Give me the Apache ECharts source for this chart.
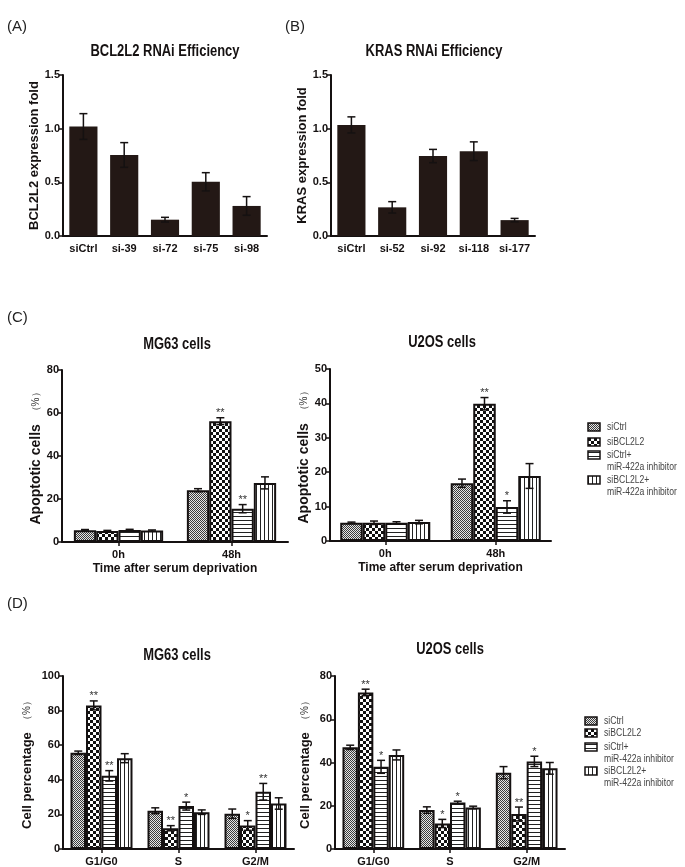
<!DOCTYPE html>
<html><head><meta charset="utf-8">
<script src="https://cdn.jsdelivr.net/npm/echarts@6/dist/echarts.min.js"></script>
<style>html,body{margin:0;padding:0;background:#fff}#c{width:685px;height:867px}</style>
</head><body><div id="c"></div>
<script>
// ---------- DATA ----------
const catsA = ['siCtrl', 'si-39', 'si-72', 'si-75', 'si-98'];
const valsA = [1.02, 0.755, 0.152, 0.505, 0.28];
const errA  = [0.12, 0.115, 0.022, 0.085, 0.087];

const catsB = ['siCtrl', 'si-52', 'si-92', 'si-118', 'si-177'];
const valsB = [1.035, 0.267, 0.745, 0.79, 0.148];
const errB  = [0.075, 0.053, 0.062, 0.087, 0.016];

const groupNames = ['siCtrl', 'siBCL2L2', 'siCtrl+ miR-422a inhibitor', 'siBCL2L2+ miR-422a inhibitor'];
const legendLines = [['siCtrl'], ['siBCL2L2'], ['siCtrl+', 'miR-422a inhibitor'], ['siBCL2L2+', 'miR-422a inhibitor']];

const timeCats = ['0h', '48h'];
// apoptosis MG63 (rows = groups, cols = time)
const apoMG63     = [[5.5, 24.1], [5.1, 56.2], [5.6, 15.5], [5.3, 27.5]];
const apoMG63Err  = [[0.3, 0.7], [0.3, 1.6], [0.3, 1.9], [0.3, 2.8]];
const apoMG63Star = [['', ''], ['', '**'], ['', '**'], ['', '']];
// apoptosis U2OS
const apoU2OS     = [[5.3, 16.8], [5.3, 39.9], [5.3, 9.9], [5.5, 18.9]];
const apoU2OSErr  = [[0.2, 1.2], [0.5, 1.8], [0.3, 1.8], [0.5, 3.6]];
const apoU2OSStar = [['', ''], ['', '**'], ['', '*'], ['', '']];

const phaseCats = ['G1/G0', 'S', 'G2/M'];
// cell cycle MG63
const ccMG63     = [[55.6, 22.1, 20.4], [83.0, 12.0, 13.6], [42.3, 24.8, 33.1], [52.5, 21.3, 26.3]];
const ccMG63Err  = [[1.0, 1.7, 2.7], [2.6, 1.5, 2.8], [3.0, 2.3, 4.8], [2.6, 1.3, 3.3]];
const ccMG63Star = [['', '', ''], ['**', '**', '*'], ['**', '*', '**'], ['', '', '']];
// cell cycle U2OS
const ccU2OS     = [[47.0, 18.0, 35.3], [72.4, 11.8, 16.2], [38.0, 21.5, 40.5], [43.5, 19.2, 37.3]];
const ccU2OSErr  = [[1.0, 1.5, 2.8], [1.5, 1.9, 3.2], [3.0, 0.6, 2.4], [2.3, 0.6, 2.7]];
const ccU2OSStar = [['', '', ''], ['**', '*', '**'], ['*', '*', '*'], ['', '', '']];

// ---------- STYLE ----------
const FN = "'Liberation Sans',Arial,sans-serif";
const FR = "'Liberation Sans',Arial,sans-serif";
const INK = '#151111';

function makePattern(kind) {
  const c = document.createElement('canvas');
  let ctx;
  if (kind === 'dots') {
    c.width = 2; c.height = 2; ctx = c.getContext('2d');
    ctx.fillStyle = '#e6e6e6'; ctx.fillRect(0, 0, 2, 2);
    ctx.fillStyle = '#3c3c3c'; ctx.fillRect(0, 0, 1, 1); ctx.fillRect(1, 1, 1, 1);
  } else if (kind === 'checker') {
    c.width = 6; c.height = 6; ctx = c.getContext('2d');
    ctx.fillStyle = '#ffffff'; ctx.fillRect(0, 0, 6, 6);
    ctx.fillStyle = '#111111'; ctx.fillRect(0, 0, 3, 3); ctx.fillRect(3, 3, 3, 3);
  } else if (kind === 'hlines') {
    c.width = 4; c.height = 4; ctx = c.getContext('2d');
    ctx.fillStyle = '#ffffff'; ctx.fillRect(0, 0, 4, 4);
    ctx.fillStyle = '#222222'; ctx.fillRect(0, 0, 4, 1);
  } else {
    c.width = 4; c.height = 4; ctx = c.getContext('2d');
    ctx.fillStyle = '#ffffff'; ctx.fillRect(0, 0, 4, 4);
    ctx.fillStyle = '#222222'; ctx.fillRect(0, 0, 1, 4);
  }
  return { image: c, repeat: 'repeat' };
}
const patterns = [makePattern('dots'), makePattern('checker'), makePattern('hlines'), makePattern('vlines')];

const grids = [
  { left: 63, top: 75, width: 204, height: 161 },
  { left: 331, top: 75, width: 204, height: 161 },
  { left: 62, top: 370, width: 226, height: 172 },
  { left: 330, top: 369, width: 221, height: 172 },
  { left: 63, top: 676, width: 231, height: 173 },
  { left: 335, top: 676, width: 230, height: 173 }
];

const axisLbl = { fontFamily: FN, fontWeight: 'bold', fontSize: 11, color: INK };

function xAx(grid, data, ticks, name) {
  return {
    type: 'category', gridIndex: grid, data: data,
    axisLine: { lineStyle: { color: INK, width: 2 } },
    axisTick: { show: ticks, alignWithLabel: true, length: 4, lineStyle: { color: INK, width: 1.5 } },
    axisLabel: Object.assign({ margin: 7, interval: 0 }, axisLbl),
    name: name || '', nameLocation: 'middle', nameGap: 21,
    nameTextStyle: { fontFamily: FN, fontWeight: 'bold', fontSize: 12, color: INK }
  };
}
function yAx(grid, max, interval, name, gap, fs, fmt, rich) {
  const o = {
    type: 'value', gridIndex: grid, min: 0, max: max, interval: interval,
    axisLine: { show: true, lineStyle: { color: INK, width: 2 } },
    axisTick: { show: true, length: 4, lineStyle: { color: INK, width: 1.5 } },
    splitLine: { show: false },
    axisLabel: Object.assign({ margin: 3, formatter: fmt }, axisLbl),
    name: name, nameLocation: 'middle', nameGap: gap, nameRotate: 90,
    nameTextStyle: { fontFamily: FN, fontWeight: 'bold', fontSize: fs, color: INK }
  };
  if (rich) o.nameTextStyle.rich = {
    b: { fontFamily: FN, fontWeight: 'bold', fontSize: fs, color: INK },
    n: { fontFamily: FR, fontWeight: 'normal', fontSize: 10, color: '#333' }
  };
  return o;
}

function makeErr(i, n, gapFrac, starArr, capW) {
  return function (params, api) {
    const k = api.value(0), v = api.value(1), e = api.value(2);
    const c = api.coord([k, v]);
    const band = api.size([1, 0])[0];
    const bw = band * (1 - gapFrac) / n;
    const x = c[0] - band * (1 - gapFrac) / 2 + (i + 0.5) * bw;
    const yt = api.coord([k, v + e])[1];
    const yb = api.coord([k, Math.max(0, v - e)])[1];
    const hw = capW / 2;
    const st = { stroke: INK, lineWidth: 1.5 };
    const ch = [
      { type: 'line', shape: { x1: x, y1: yt, x2: x, y2: yb }, style: st },
      { type: 'line', shape: { x1: x - hw, y1: yt, x2: x + hw, y2: yt }, style: st },
      { type: 'line', shape: { x1: x - hw, y1: yb, x2: x + hw, y2: yb }, style: st }
    ];
    const s = starArr ? starArr[params.dataIndex] : '';
    if (s) ch.push({ type: 'text', x: x, y: yt + 1, style: { text: s, font: '11px ' + FR, fill: '#333', align: 'center', verticalAlign: 'bottom' } });
    return { type: 'group', children: ch };
  };
}

const series = [];
function simpleBars(g, vals, errs, gapFrac) {
  series.push({ type: 'bar', xAxisIndex: g, yAxisIndex: g, data: vals, barCategoryGap: (gapFrac * 100) + '%',
    itemStyle: { color: '#231815' }, animation: false, silent: true });
  series.push({ type: 'custom', xAxisIndex: g, yAxisIndex: g, z: 5, animation: false, silent: true,
    data: vals.map((v, k) => [k, v, errs[k]]), renderItem: makeErr(0, 1, gapFrac, null, 8) });
}
function groupBars(g, vals, errs, stars, gapFrac) {
  vals.forEach((arr, i) => {
    series.push({ type: 'bar', name: groupNames[i], xAxisIndex: g, yAxisIndex: g, data: arr,
      barGap: '0%', barCategoryGap: (gapFrac * 100) + '%',
      itemStyle: { color: patterns[i], borderColor: INK, borderWidth: 2 }, animation: false, silent: true });
  });
  vals.forEach((arr, i) => {
    series.push({ type: 'custom', xAxisIndex: g, yAxisIndex: g, z: 5, animation: false, silent: true,
      data: arr.map((v, k) => [k, v, errs[i][k]]), renderItem: makeErr(i, 4, gapFrac, stars[i], 8) });
  });
}
simpleBars(0, valsA, errA, 0.31);
simpleBars(1, valsB, errB, 0.31);
groupBars(2, apoMG63, apoMG63Err, apoMG63Star, 0.21);
groupBars(3, apoU2OS, apoU2OSErr, apoU2OSStar, 0.185);
groupBars(4, ccMG63, ccMG63Err, ccMG63Star, 0.195);
groupBars(5, ccU2OS, ccU2OSErr, ccU2OSStar, 0.195);

const f1 = v => v.toFixed(1);
const f0 = v => String(v);
const xAxes = [
  xAx(0, catsA, false), xAx(1, catsB, false),
  xAx(2, timeCats, true, 'Time after serum deprivation'), xAx(3, timeCats, true, 'Time after serum deprivation'),
  xAx(4, phaseCats, true), xAx(5, phaseCats, true)
];
const yAxes = [
  yAx(0, 1.5, 0.5, 'BCL2L2 expression fold', 21, 13, f1),
  yAx(1, 1.5, 0.5, 'KRAS expression fold', 20, 13, f1),
  yAx(2, 80, 20, '{b|Apoptotic cells}  {n|（%）}', 19, 14, f0, true),
  yAx(3, 50, 10, '{b|Apoptotic cells}  {n|（%）}', 18, 14, f0, true),
  yAx(4, 100, 20, '{b|Cell percentage}  {n|（%）}', 29, 13, f0, true),
  yAx(5, 80, 20, '{b|Cell percentage}  {n|（%）}', 23, 13, f0, true)
];

const graphics = [];
function txt(x, y, text, font, fill, align, sx) {
  graphics.push({ type: 'text', x: x, y: y, silent: true, scaleX: sx || 1,
    style: { text: text, font: font, fill: fill || INK, align: align || 'center', verticalAlign: 'middle' } });
}
txt(7, 27, '(A)', '15px ' + FR, '#222', 'left');
txt(285, 27, '(B)', '15px ' + FR, '#222', 'left');
txt(7, 318, '(C)', '15px ' + FR, '#222', 'left');
txt(7, 604, '(D)', '15px ' + FR, '#222', 'left');
txt(165, 52, 'BCL2L2 RNAi Efficiency', 'bold 16px ' + FN, INK, 'center', 0.81);
txt(434, 52, 'KRAS RNAi Efficiency', 'bold 16px ' + FN, INK, 'center', 0.81);
txt(177, 345, 'MG63 cells', 'bold 16px ' + FN, INK, 'center', 0.81);
txt(442, 343, 'U2OS cells', 'bold 16px ' + FN, INK, 'center', 0.81);
txt(177, 656, 'MG63 cells', 'bold 16px ' + FN, INK, 'center', 0.81);
txt(450, 650, 'U2OS cells', 'bold 16px ' + FN, INK, 'center', 0.81);

function legendBlock(px, tx, rowsY) {
  legendLines.forEach((lines, i) => {
    const y = rowsY[i];
    graphics.push({ type: 'rect', silent: true, shape: { x: px, y: y - 4, width: 12, height: 8 },
      style: { fill: patterns[i], stroke: INK, lineWidth: 1.5 } });
    lines.forEach((ln, j) => txt(tx, y + j * 12.5, ln, '10px ' + FN, '#444', 'left', 0.86));
  });
}
legendBlock(588, 607, [427, 442, 455, 480]);
legendBlock(585, 604, [721, 733, 747, 771]);

const chart = echarts.init(document.getElementById('c'), null, { renderer: 'canvas' });
chart.setOption({
  backgroundColor: '#fff',
  animation: false,
  grid: grids,
  xAxis: xAxes,
  yAxis: yAxes,
  series: series,
  graphic: graphics
});
</script></body></html>
